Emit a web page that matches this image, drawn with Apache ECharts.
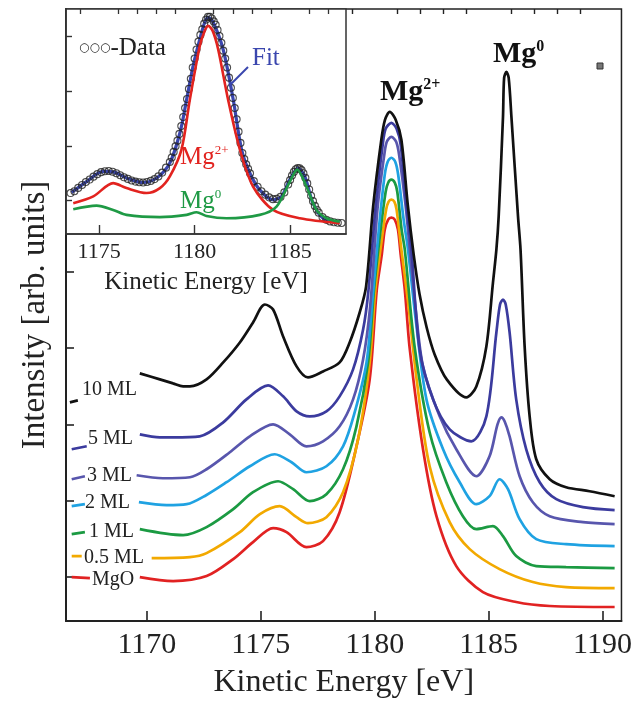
<!DOCTYPE html>
<html><head><meta charset="utf-8">
<script src="https://cdn.jsdelivr.net/npm/echarts@6/dist/echarts.min.js"></script>
<style>html,body{margin:0;padding:0;background:#fff}#c{width:635px;height:704px}</style>
</head><body><div id="c"></div>
<script>
const FONT = '"Liberation Serif","Times New Roman",serif';

// ---- main spectra: [kinetic energy (eV), intensity (arb.)]; '-' = gap hidden by label
const seriesNames = ['10 ML', '5 ML', '3 ML', '2 ML', '1 ML', '0.5 ML', 'MgO'];
const seriesColors = ['#111111', '#3b3b9e', '#5856ad', '#1fa2e2', '#1b9a42', '#f2a900', '#e12222'];

const ml10 = [[1166.62,21.9],[1166.97,22.1],[1168.4,'-'],
 [1169.69,24.8],[1170.57,24.2],[1171.15,23.8],[1171.59,23.5],[1171.89,23.5],[1172.62,24.2],[1173.35,25.9],[1174.08,27.9],[1174.66,29.9],[1175.18,31.7],[1175.54,31.2],[1175.98,28.5],[1176.57,25.5],[1177.07,24.4],[1177.73,25.0],[1178.46,25.9],[1178.90,27.9],[1179.34,30.9],[1179.62,33.5],[1179.93,41.5],[1180.29,48.2],[1180.45,50.2],[1180.66,51.0],[1180.92,50.2],[1181.17,48.2],[1181.45,41.7],[1181.71,36.7],[1181.97,32.7],[1182.28,29.4],[1182.63,26.7],[1183.16,24.2],[1184.02,22.4],[1184.46,23.5],[1184.90,27.5],[1185.19,33.9],[1185.34,37.2],[1185.44,40.5],[1185.63,50.5],[1185.68,54.4],[1185.78,55.0],[1185.88,54.4],[1186.00,50.5],[1186.29,40.5],[1186.40,37.2],[1186.58,27.5],[1186.80,20.5],[1187.09,16.2],[1187.68,14.2],[1188.40,13.4],[1189.43,13.0],[1190.53,12.5]];

const ml5 = [[1166.70,17.2],[1167.36,17.5],[1168.4,'-'],
 [1169.69,18.7],[1170.57,18.4],[1171.15,18.4],[1172.32,18.5],[1173.35,19.9],[1174.37,22.2],[1175.32,23.6],[1175.98,22.5],[1176.57,21.0],[1177.15,20.5],[1177.88,21.0],[1178.46,22.5],[1179.05,25.2],[1179.49,29.2],[1179.72,33.0],[1180.04,41.5],[1180.35,47.7],[1180.48,49.3],[1180.73,49.9],[1180.96,49.3],[1181.14,47.7],[1181.40,41.5],[1181.61,37.2],[1181.97,27.2],[1182.56,22.2],[1183.29,19.2],[1184.24,18.0],[1184.90,20.5],[1185.34,28.9],[1185.50,31.7],[1185.63,32.2],[1185.75,31.7],[1185.92,28.9],[1186.21,22.2],[1186.65,17.2],[1187.24,13.9],[1187.97,12.2],[1189.14,11.4],[1190.53,11.1]];

const ml3 = [[1166.70,14.2],[1167.28,14.5],[1168.4,'-'],
 [1169.55,14.6],[1170.70,14.3],[1171.89,14.4],[1172.62,15.2],[1173.64,16.9],[1174.52,18.5],[1175.54,19.7],[1176.27,18.7],[1177.00,17.5],[1177.73,18.0],[1178.46,19.5],[1179.05,22.2],[1179.49,26.2],[1179.80,31.5],[1180.13,41.5],[1180.42,46.7],[1180.53,48.0],[1180.73,48.5],[1180.94,48.0],[1181.07,46.7],[1181.36,41.5],[1181.54,37.2],[1181.80,31.2],[1182.12,25.5],[1182.85,20.5],[1183.58,17.2],[1184.46,14.5],[1185.04,16.5],[1185.39,19.7],[1185.56,20.4],[1185.70,20.0],[1185.92,18.5],[1186.36,14.5],[1186.94,11.9],[1187.68,10.5],[1189.14,9.9],[1190.53,9.7]];

const ml2 = [[1166.70,11.5],[1167.28,11.7],[1168.4,'-'],
 [1169.65,11.9],[1170.86,11.6],[1171.75,11.7],[1172.60,12.6],[1173.50,13.9],[1174.52,15.5],[1175.61,16.7],[1176.35,15.9],[1177.00,14.9],[1177.88,15.5],[1178.61,17.5],[1179.12,20.9],[1179.64,25.9],[1179.90,32.2],[1180.22,40.2],[1180.44,44.7],[1180.57,46.0],[1180.73,46.4],[1180.90,46.0],[1181.03,44.7],[1181.27,40.2],[1181.46,37.2],[1181.80,30.2],[1182.27,22.2],[1183.00,17.2],[1183.73,13.9],[1184.46,11.7],[1185.04,12.5],[1185.48,14.2],[1185.85,13.2],[1186.36,10.2],[1187.09,8.2],[1188.40,7.7],[1190.53,7.5]];

const ml1 = [[1166.70,8.7],[1167.28,8.9],[1168.4,'-'],
 [1169.69,9.2],[1171.59,8.6],[1172.62,9.4],[1173.79,11.2],[1174.66,12.9],[1175.76,14.0],[1176.42,13.2],[1177.15,12.0],[1177.88,12.7],[1178.61,15.2],[1179.20,19.5],[1179.71,25.9],[1179.97,33.2],[1180.26,39.2],[1180.48,43.0],[1180.59,43.9],[1180.73,44.2],[1180.88,43.9],[1180.99,43.0],[1181.18,39.2],[1181.32,37.2],[1181.75,27.5],[1182.41,18.9],[1183.14,13.9],[1183.87,10.5],[1184.46,9.2],[1185.19,9.5],[1185.63,8.5],[1186.21,6.5],[1187.09,5.5],[1188.40,5.4],[1190.53,5.3]];

const ml05 = [[1166.70,6.5],[1167.14,6.5],[1168.4,'-'],
 [1170.21,6.3],[1171.89,6.4],[1172.62,6.8],[1174.08,8.9],[1174.96,10.7],[1175.83,11.5],[1176.57,10.4],[1177.07,9.8],[1177.88,10.4],[1178.61,12.9],[1179.27,18.2],[1179.78,25.9],[1180.03,33.2],[1180.31,38.2],[1180.50,41.2],[1180.61,42.0],[1180.73,42.2],[1180.86,42.0],[1180.96,41.2],[1181.17,37.2],[1181.45,32.2],[1181.85,24.0],[1182.41,15.5],[1183.29,9.9],[1184.17,7.2],[1185.48,5.2],[1186.94,3.9],[1188.40,3.4],[1190.53,3.3]];

const mgo = [[1166.70,4.4],[1167.50,4.3],[1168.4,'-'],
 [1169.69,4.4],[1171.15,4.0],[1172.62,4.5],[1173.79,6.2],[1174.66,7.9],[1175.54,9.3],[1176.13,8.9],[1177.00,7.4],[1177.73,8.0],[1178.46,10.9],[1179.20,17.5],[1179.78,24.2],[1180.09,33.2],[1180.31,36.7],[1180.44,39.2],[1180.59,40.2],[1180.73,40.4],[1180.88,40.2],[1181.02,39.2],[1181.14,36.7],[1181.32,33.2],[1181.54,27.2],[1182.12,17.2],[1182.71,10.5],[1183.58,5.5],[1184.75,2.9],[1186.21,1.9],[1187.68,1.5],[1190.53,1.4]];

const mainSeries = [ml10, ml5, ml3, ml2, ml1, ml05, mgo];

// ---- inset (10 ML fit)
const insetData = [[1173.5,18.2],[1173.7,19.0],[1173.9,20.5],[1174.1,21.8],[1174.3,23.1],[1174.5,24.2],[1174.7,25.5],[1174.9,26.6],[1175.1,27.5],[1175.3,27.9],[1175.5,28.0],[1175.7,27.7],[1175.9,27.0],[1176.1,26.1],[1176.3,25.2],[1176.5,24.5],[1176.7,23.8],[1176.9,23.3],[1177.1,23.0],[1177.3,22.9],[1177.5,23.1],[1177.7,23.6],[1177.9,24.4],[1178.1,25.6],[1178.3,27.3],[1178.5,29.5],[1178.7,32.0],[1178.8,34.0],[1178.9,36.5],[1179.0,39.0],[1179.1,41.5],[1179.2,44.5],[1179.3,48.0],[1179.4,52.0],[1179.5,56.0],[1179.6,60.0],[1179.7,64.5],[1179.8,69.0],[1179.9,74.0],[1180.0,78.0],[1180.1,82.0],[1180.2,85.5],[1180.3,88.5],[1180.4,91.0],[1180.5,93.5],[1180.6,95.3],[1180.7,96.5],[1180.8,96.5],[1180.9,95.8],[1181.0,94.5],[1181.1,93.0],[1181.2,90.7],[1181.3,88.0],[1181.4,85.0],[1181.5,81.5],[1181.6,78.0],[1181.7,74.0],[1181.8,69.5],[1181.9,65.0],[1182.0,60.5],[1182.1,56.0],[1182.2,51.0],[1182.3,45.5],[1182.4,40.5],[1182.5,36.0],[1182.6,33.3],[1182.7,31.0],[1182.8,29.0],[1182.9,27.0],[1183.1,23.5],[1183.3,21.0],[1183.5,19.0],[1183.7,17.5],[1183.9,16.3],[1184.1,15.5],[1184.3,15.6],[1184.5,16.5],[1184.7,18.5],[1184.9,22.0],[1185.0,24.0],[1185.1,26.0],[1185.2,27.6],[1185.3,28.8],[1185.4,29.3],[1185.5,29.2],[1185.6,28.4],[1185.7,27.0],[1185.8,25.0],[1185.9,22.5],[1186.0,19.8],[1186.1,17.0],[1186.2,14.6],[1186.3,12.5],[1186.4,10.8],[1186.5,9.5],[1186.7,7.5],[1186.9,6.3],[1187.1,5.6],[1187.3,5.2],[1187.5,5.0],[1187.7,4.9]];
const insetFit = [[1173.55,18.4],[1174.34,23.3],[1175.21,27.8],[1175.82,27.4],[1176.43,24.9],[1177.30,22.9],[1178.01,24.9],[1178.70,31.6],[1179.23,45.0],[1179.58,59.8],[1179.92,74.7],[1180.27,86.6],[1180.53,94.1],[1180.71,96.3],[1180.97,94.1],[1181.49,82.1],[1182.02,59.8],[1182.46,37.5],[1182.89,27.1],[1183.41,19.6],[1184.11,15.2],[1184.55,16.7],[1184.98,24.1],[1185.42,29.3],[1185.77,25.6],[1186.20,13.7],[1186.73,7.0],[1187.60,5.0]];
const insetMg2 = [[1173.64,13.7],[1174.69,16.7],[1175.73,22.6],[1176.43,20.4],[1177.48,18.2],[1178.18,20.4],[1178.70,25.6],[1179.31,37.5],[1179.75,59.8],[1180.27,83.6],[1180.53,90.3],[1180.71,92.5],[1180.94,90.3],[1181.23,82.1],[1181.75,59.8],[1182.37,37.5],[1183.06,21.1],[1184.11,10.7],[1185.51,7.0],[1187.60,4.8]];
const insetMg0 = [[1173.64,11.0],[1174.86,12.6],[1175.73,10.7],[1176.43,8.5],[1178.18,7.5],[1179.58,8.5],[1180.10,9.7],[1180.62,8.0],[1181.67,7.0],[1183.41,8.5],[1184.29,12.2],[1184.99,23.3],[1185.37,28.6],[1185.86,21.1],[1186.38,10.7],[1186.91,7.0],[1187.60,5.5]];

// ---- ticks
const mainMajorX = [1170, 1175, 1180, 1185, 1190];
const mainMinorX = [1167,1168,1169,1171,1172,1173,1174,1176,1177,1178,1179,1181,1182,1183,1184,1186,1187,1188,1189];
const mainYTicks = [4.4, 12.05, 19.7, 27.35, 35.0];
const insetMajorX = [1175, 1180, 1185];
const insetMinorX = [1174,1176,1177,1178,1179,1181,1182,1183,1184,1186,1187];
const insetYTicks = [15.1, 39.1, 63.6, 88.0];

const chart = echarts.init(document.getElementById('c'));
const plain = v => String(Math.round(v));

const series = [];
for (let i = mainSeries.length - 1; i >= 0; i--) {
  series.push({
    name: seriesNames[i], type: 'line', xAxisIndex: 0, yAxisIndex: 0,
    data: mainSeries[i], showSymbol: false, smooth: 0.3,
    connectNulls: false, lineStyle: { color: seriesColors[i], width: 2.7 }, z: 2 + (mainSeries.length - i) * 0.01
  });
}
series.push({ name: 'Fit', type: 'line', xAxisIndex: 2, yAxisIndex: 1, data: insetFit, showSymbol: false, smooth: 0.3, lineStyle: { color: '#3a46ae', width: 3.2 }, z: 20 });
series.push({ name: 'Data', type: 'scatter', xAxisIndex: 2, yAxisIndex: 1, data: insetData, symbol: 'circle', symbolSize: 7, itemStyle: { color: 'rgba(0,0,0,0)', borderColor: '#222', borderWidth: 1.1 }, z: 21 });
series.push({ name: 'Mg2+', type: 'line', xAxisIndex: 2, yAxisIndex: 1, data: insetMg2, showSymbol: false, smooth: 0.3, lineStyle: { color: '#e2231f', width: 2.6 }, z: 22 });
series.push({ name: 'Mg0', type: 'line', xAxisIndex: 2, yAxisIndex: 1, data: insetMg0, showSymbol: false, smooth: 0.3, lineStyle: { color: '#1f9a45', width: 2.6 }, z: 22 });

const curveLabelPos = [[82,390],[88,439],[87,476],[85,503],[89,532],[84,558],[92,580]];
const graphics = seriesNames.map((n, i) => ({
  type: 'text', x: curveLabelPos[i][0], y: curveLabelPos[i][1], z: 50,
  style: { text: n, font: '20px ' + FONT, fill: '#222', align: 'left', verticalAlign: 'middle' }
}));
graphics.push(
  { type: 'text', x: 380, y: 92, z: 50, style: { text: '{m|Mg}{s|2+}', align: 'left', verticalAlign: 'middle', fill: '#111',
    rich: { m: { fontFamily: FONT, fontWeight: 'bold', fontSize: 30, verticalAlign: 'bottom' }, s: { fontFamily: FONT, fontWeight: 'bold', fontSize: 16, verticalAlign: 'top' } } } },
  { type: 'text', x: 493, y: 54, z: 50, style: { text: '{m|Mg}{s|0}', align: 'left', verticalAlign: 'middle', fill: '#111',
    rich: { m: { fontFamily: FONT, fontWeight: 'bold', fontSize: 30, verticalAlign: 'bottom' }, s: { fontFamily: FONT, fontWeight: 'bold', fontSize: 16, verticalAlign: 'top' } } } },
  { type: 'rect', shape: { x: 597, y: 63, width: 6, height: 6 }, z: 50, style: { fill: '#777', stroke: '#333', lineWidth: 1 } },
  { type: 'text', x: 79, y: 48, z: 60, style: { text: '{c|○○○}{t|-Data}', align: 'left', verticalAlign: 'middle', fill: '#222',
    rich: { c: { fontSize: 12, fontFamily: 'DejaVu Sans', verticalAlign: 'middle' }, t: { fontFamily: FONT, fontSize: 25 } } } },
  { type: 'text', x: 252, y: 58, z: 60, style: { text: 'Fit', font: '25px ' + FONT, fill: '#3a46ae', align: 'left', verticalAlign: 'middle' } },
  { type: 'line', z: 60, shape: { x1: 248, y1: 67, x2: 229, y2: 86 }, style: { stroke: '#3a46ae', lineWidth: 2 } },
  { type: 'text', x: 180, y: 157, z: 60, style: { text: '{m|Mg}{s|2+}', align: 'left', verticalAlign: 'middle', fill: '#e2231f',
    rich: { m: { fontFamily: FONT, fontSize: 25, verticalAlign: 'bottom' }, s: { fontFamily: FONT, fontSize: 13, verticalAlign: 'top' } } } },
  { type: 'text', x: 180, y: 201, z: 60, style: { text: '{m|Mg}{s|0}', align: 'left', verticalAlign: 'middle', fill: '#1f9a45',
    rich: { m: { fontFamily: FONT, fontSize: 25, verticalAlign: 'bottom' }, s: { fontFamily: FONT, fontSize: 13, verticalAlign: 'top' } } } }
);

chart.setOption({
  animation: false,
  backgroundColor: '#fff',
  grid: [
    { left: 66, top: 9, width: 556, height: 613, show: true, borderColor: '#222', borderWidth: 1.5, z: 0 },
    { left: 66, top: 9, width: 280, height: 225, show: true, backgroundColor: '#fff', borderColor: '#333', borderWidth: 1.5, z: 10 }
  ],
  xAxis: [
    { gridIndex: 0, type: 'value', min: 1166.45, max: 1190.83,
      axisLine: { lineStyle: { color: '#222', width: 2 } },
      axisTick: { inside: true, length: 10, customValues: mainMajorX, lineStyle: { color: '#222', width: 1.6 } },
      axisLabel: { customValues: mainMajorX, formatter: plain, fontFamily: FONT, fontSize: 30, color: '#222', margin: 9 },
      splitLine: { show: false },
      name: 'Kinetic Energy [eV]', nameLocation: 'middle', nameGap: 46,
      nameTextStyle: { fontFamily: FONT, fontSize: 32, color: '#222' } },
    { gridIndex: 0, type: 'value', min: 1166.45, max: 1190.83,
      axisLine: { show: false },
      axisTick: { inside: true, length: 5, customValues: mainMinorX, lineStyle: { color: '#222', width: 1.4 } },
      axisLabel: { show: false }, splitLine: { show: false } },
    { gridIndex: 1, type: 'value', min: 1173.26, max: 1187.93, z: 25,
      axisLine: { lineStyle: { color: '#333', width: 1.5 } },
      axisTick: { inside: true, length: 9, customValues: insetMajorX, lineStyle: { color: '#333', width: 1.4 } },
      axisLabel: { customValues: insetMajorX, formatter: plain, fontFamily: FONT, fontSize: 22, color: '#222', margin: 7 },
      splitLine: { show: false },
      name: 'Kinetic Energy [eV]', nameLocation: 'middle', nameGap: 36,
      nameTextStyle: { fontFamily: FONT, fontSize: 25, color: '#222' } },
    { gridIndex: 1, type: 'value', min: 1173.26, max: 1187.93, z: 25,
      axisLine: { show: false },
      axisTick: { inside: true, length: 5, customValues: insetMinorX, lineStyle: { color: '#333', width: 1.3 } },
      axisLabel: { show: false }, splitLine: { show: false } }
  ],
  yAxis: [
    { gridIndex: 0, type: 'value', min: 0, max: 61.3,
      axisLine: { lineStyle: { color: '#222', width: 2 } },
      axisTick: { inside: true, length: 8, customValues: mainYTicks, lineStyle: { color: '#222', width: 1.6 } },
      axisLabel: { show: false }, splitLine: { show: false },
      name: 'Intensity [arb. units]', nameLocation: 'middle', nameGap: 14,
      nameTextStyle: { fontFamily: FONT, fontSize: 33, color: '#222' } },
    { gridIndex: 1, type: 'value', min: 0, max: 100, z: 25,
      axisLine: { lineStyle: { color: '#333', width: 1.5 } },
      axisTick: { inside: true, length: 6, customValues: insetYTicks, lineStyle: { color: '#333', width: 1.4 } },
      axisLabel: { show: false }, splitLine: { show: false } }
  ],
  series: series,
  graphic: graphics
});
</script></body></html>
